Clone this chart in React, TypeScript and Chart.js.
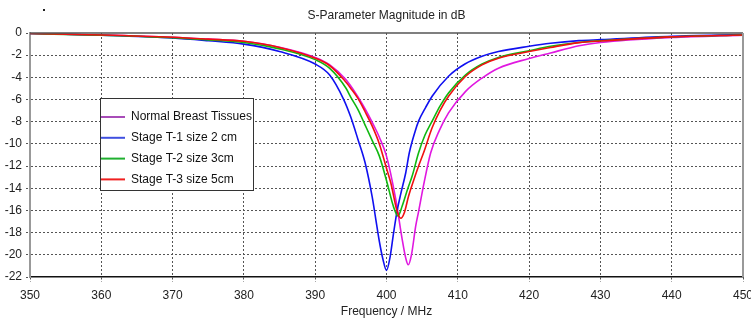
import React, { useEffect, useRef } from "react";
import { Chart, registerables } from "chart.js";

Chart.register(...registerables);

const chartTitle = "S-Parameter Magnitude in dB";
const xAxisTitle = "Frequency / MHz";
const seriesLabels = [
  "Normal Breast Tissues",
  "Stage T-1 size 2 cm",
  "Stage T-2 size 3cm",
  "Stage T-3 size 5cm",
];
const seriesColors = ["#e018e0", "#1010f0", "#10b810", "#f01010"];
const legendColors = ["#a84cb8", "#4050e0", "#20b030", "#f02020"];

const normalFreq = [350, 360, 370, 375, 380, 385, 390, 392, 394.3, 396.6, 398.5, 399, 400, 401.3, 402.2, 402.7, 403.05, 403.5, 404.1, 404.5, 405.3, 406.2, 407.4, 408.7, 411.1, 413.4, 415.7, 420, 423, 427, 430, 440, 450];
const normalDb = [-0.05, -0.18, -0.38, -0.55, -0.75, -1.28, -2.2, -2.85, -4.2, -6.4, -8.7, -9.4, -11.1, -15.0, -18.6, -20.3, -20.9, -20.0, -17.4, -16.1, -13.4, -10.8, -8.8, -7.2, -5.26, -4.06, -3.17, -2.3, -1.8, -1.15, -0.85, -0.4, -0.2];

const t1Freq = [350, 360, 370, 375, 380, 385, 390, 392, 394, 395, 396, 397, 398, 398.5, 399, 399.5, 400, 400.5, 401, 401.5, 402, 402.7, 403.2, 404, 404.5, 405.5, 406.4, 408.7, 411, 413.4, 415.7, 420, 423, 427, 430, 440, 450];
const t1Db = [-0.05, -0.2, -0.45, -0.7, -1.0, -1.67, -2.8, -3.77, -6.0, -7.6, -9.6, -11.7, -14.8, -16.8, -18.8, -20.4, -21.4, -20.2, -18.0, -16.0, -14.5, -12.6, -10.8, -8.9, -7.95, -6.7, -5.7, -3.9, -2.8, -2.1, -1.67, -1.2, -0.93, -0.69, -0.6, -0.3, -0.15];

const t2Freq = [350, 360, 370, 375, 380, 385, 390, 392, 394.3, 395, 396, 397, 398, 399, 400, 401, 401.6, 402.2, 403, 403.6, 404.5, 405.4, 406.4, 407.5, 408.7, 411.1, 413.4, 415.7, 420, 423, 427, 430, 440, 450];
const t2Db = [-0.05, -0.2, -0.42, -0.62, -0.85, -1.43, -2.4, -3.17, -4.96, -5.8, -6.9, -8.3, -9.7, -11.1, -13.3, -15.7, -16.5, -15.6, -14.0, -12.9, -10.8, -9.2, -7.95, -6.6, -5.4, -3.77, -2.8, -2.2, -1.6, -1.2, -0.85, -0.7, -0.35, -0.18];

const t3Freq = [350, 360, 370, 375, 380, 385, 390, 392, 394, 395, 396, 397, 398, 399, 400, 400.6, 401.5, 402, 402.5, 403.1, 403.8, 404.5, 405.2, 406.4, 407.5, 408.7, 411.1, 413.4, 415.7, 420, 423, 427, 430, 440, 450];
const t3Db = [-0.05, -0.18, -0.38, -0.55, -0.75, -1.3, -2.27, -2.93, -4.2, -5.0, -5.9, -7.1, -8.4, -10.0, -12.2, -13.5, -16.1, -16.7, -16.2, -14.7, -13.3, -12.0, -10.8, -8.55, -7.0, -5.7, -3.9, -2.87, -2.27, -1.67, -1.3, -0.87, -0.72, -0.35, -0.18];

const xMin = 350;
const xMax = 450;
const xStep = 10;
const yMin = -22;
const yMax = 0;
const yStep = 2;

const FONT = "'Liberation Sans', Arial, sans-serif";
const GRID = "#555";
const NONE = "rgba(0,0,0,0)";

const framePlugin = {
  id: "frameAndLegend",
  afterDatasetsDraw(chart: any) {
    const { ctx, chartArea } = chart;
    const { left, right, top, bottom } = chartArea;
    ctx.save();
    ctx.setLineDash([]);
    ctx.strokeStyle = "#555";
    ctx.lineWidth = 1.5;
    ctx.beginPath();
    ctx.moveTo(left, top);
    ctx.lineTo(right, top);
    ctx.stroke();
    ctx.strokeStyle = "#999";
    ctx.lineWidth = 2;
    ctx.beginPath();
    ctx.moveTo(right, top);
    ctx.lineTo(right, bottom);
    ctx.stroke();

    ctx.fillStyle = "#222";
    ctx.fillRect(43, 9, 2, 2);

    const lx = 100;
    const ly = 98;
    const lw = 153;
    const lh = 92;
    ctx.fillStyle = "#ffffff";
    ctx.fillRect(lx, ly, lw, lh);
    ctx.strokeStyle = "#333";
    ctx.lineWidth = 1;
    ctx.strokeRect(lx + 0.5, ly + 0.5, lw, lh);
    ctx.font = "12px " + FONT;
    ctx.textBaseline = "middle";
    ctx.textAlign = "left";
    chart.data.datasets.forEach((ds: any, i: number) => {
      const ry = 117 + i * 20.8;
      ctx.strokeStyle = legendColors[i];
      ctx.lineWidth = 2;
      ctx.beginPath();
      ctx.moveTo(lx + 1, ry);
      ctx.lineTo(lx + 25, ry);
      ctx.stroke();
      ctx.fillStyle = "#111";
      ctx.fillText(ds.label, lx + 31, ry);
    });
    ctx.restore();
  },
};

export default function App() {
  const canvasRef = useRef<HTMLCanvasElement | null>(null);

  useEffect(() => {
    if (!canvasRef.current) return;
    const freqs = [normalFreq, t1Freq, t2Freq, t3Freq];
    const dbs = [normalDb, t1Db, t2Db, t3Db];
    const datasets = seriesLabels.map((label, i) => ({
      label,
      data: freqs[i].map((f, j) => ({ x: f, y: dbs[i][j] })),
      borderColor: seriesColors[i],
      backgroundColor: seriesColors[i],
      borderWidth: 1.6,
      pointRadius: 0,
      fill: false,
      cubicInterpolationMode: "monotone" as const,
      order: 4 - i,
    }));

    const chart = new Chart(canvasRef.current, {
      type: "line",
      data: { datasets },
      options: {
        animation: false,
        responsive: false,
        devicePixelRatio: 1,
        layout: { padding: { left: 0, right: 8, top: 0, bottom: 0 } },
        plugins: {
          legend: { display: false },
          tooltip: { enabled: false },
          title: {
            display: true,
            text: chartTitle,
            fullSize: false,
            color: "#222",
            font: { family: FONT, size: 12, weight: "normal" },
            padding: { top: 8, bottom: 10.6 },
          },
        },
        scales: {
          x: {
            type: "linear",
            min: xMin,
            max: xMax,
            afterFit: (s: any) => {
              s.height = 45;
              s.paddingLeft = 0;
              s.paddingRight = 0;
            },
            ticks: {
              stepSize: xStep,
              color: "#222",
              font: { family: FONT, size: 12 },
              padding: 6,
              maxRotation: 0,
              autoSkip: false,
            },
            grid: {
              color: (c: any) =>
                c.tick && (c.tick.value === xMin || c.tick.value === xMax) ? NONE : GRID,
              lineWidth: 1,
              tickLength: 5,
              tickColor: GRID,
              tickBorderDash: [2, 2],
            },
            border: { display: true, color: "#111", width: 1.5, dash: [2, 2] },
            title: {
              display: true,
              text: xAxisTitle,
              color: "#222",
              font: { family: FONT, size: 12 },
              padding: { top: 0, bottom: 3 },
            },
          },
          y: {
            type: "linear",
            min: yMin,
            max: yMax,
            afterFit: (s: any) => {
              s.width = 30;
              s.paddingTop = 0;
              s.paddingBottom = 0;
            },
            ticks: {
              stepSize: yStep,
              color: "#222",
              font: { family: FONT, size: 12 },
              padding: 4,
              autoSkip: false,
            },
            grid: {
              color: (c: any) =>
                c.tick && (c.tick.value === yMin || c.tick.value === yMax) ? NONE : GRID,
              lineWidth: 1,
              tickLength: 4,
              tickColor: GRID,
              tickBorderDash: [2, 2],
            },
            border: { display: true, color: "#999", width: 2, dash: [2, 2] },
          },
        },
      },
      plugins: [framePlugin],
    });
    return () => chart.destroy();
  }, []);

  return (
    <div style={{ position: "fixed", left: 0, top: 0, width: 751, height: 322, background: "#fff" }}>
      <canvas ref={canvasRef} width={751} height={322} style={{ display: "block" }} />
    </div>
  );
}
